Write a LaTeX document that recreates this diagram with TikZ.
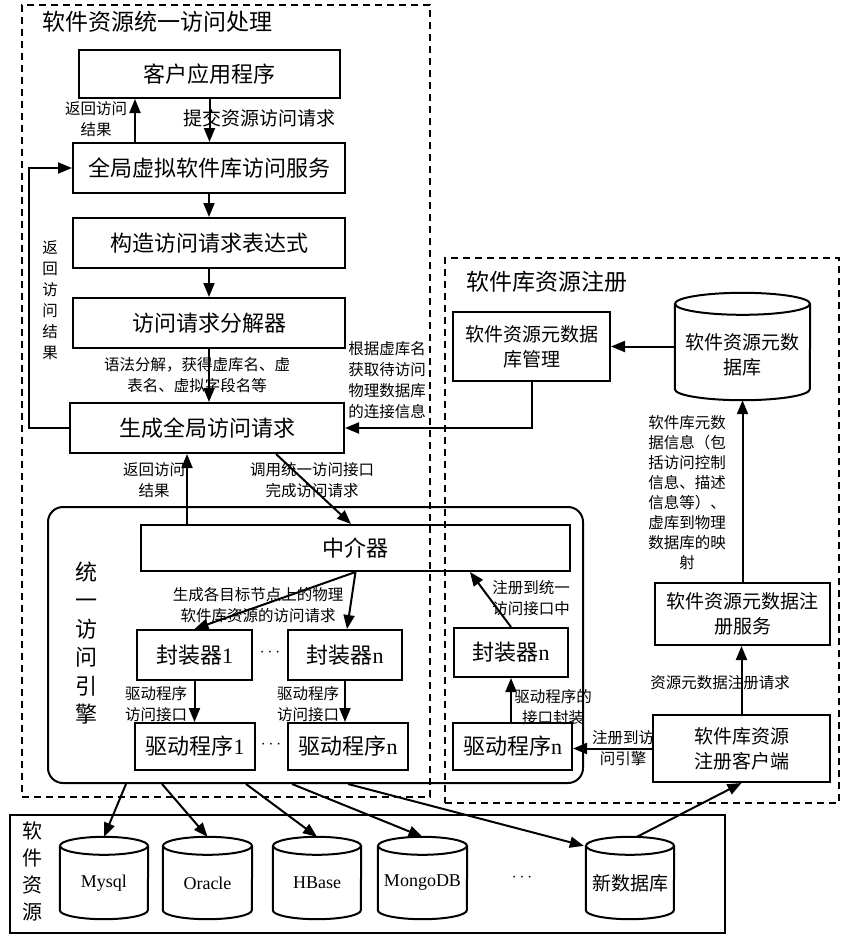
\documentclass[tikz,border=0pt]{standalone}
\usepackage{fontspec}
\setmainfont{Liberation Serif}
\newfontfamily\cjk{Noto Sans CJK SC}
\newfontfamily\lat{Liberation Serif}
\usetikzlibrary{arrows.meta,calc}
\newcommand\fbig{\cjk\fontsize{22}{26}\selectfont}
\newcommand\fmid{\cjk\fontsize{19}{25}\selectfont}
\newcommand\fsm{\cjk\fontsize{15.5}{21}\selectfont}
\newcommand\ftitle{\cjk\fontsize{23}{26}\selectfont}
\newcommand\fdb{\lat\fontsize{18}{20}\selectfont}
% cylinder: name, cx, top, bottom, half width, ry, text, font, text shift
\newcommand\dbcyl[9]{%
  \node[inner sep=0pt, minimum width={2*#5pt}, minimum height={(#4-#3)*1pt}] (#1) at (#2,{(#3+#4)/2}) {};
  \draw[boxline] ([yshift=-#6pt]#1.north west) -- ([yshift=#6pt]#1.south west)
     arc[start angle=180, end angle=360, x radius=#5pt, y radius=#6pt]
     -- ([yshift=-#6pt]#1.north east);
  \draw[boxline] ([yshift=-#6pt]#1.north) ellipse[x radius=#5pt, y radius=#6pt];
  \node[font=#8, align=center, inner sep=0pt] (#1-t) at ([yshift=-#9pt]#1.center) {#7};
}
\tikzset{
  boxline/.style={line width=2pt},
  box/.style={draw, line width=2pt, inner sep=0pt, align=center},
  dashbox/.style={draw, line width=1.7pt, dash pattern=on 7pt off 5pt, inner sep=0pt},
  arr/.style={line width=2pt, -{Triangle[length=14pt,width=11pt]}},
  lbl/.style={font=\fsm, align=center, inner sep=0pt},
}
\begin{document}
\begin{tikzpicture}[x=1pt, y=-1pt]
\useasboundingbox (0,0) rectangle (862,942);

% containers
\node[dashbox, minimum width=408pt, minimum height=792pt] (zoneL) at (226,401) {};
\node[dashbox, minimum width=394pt, minimum height=545pt] (zoneR) at (642,530.5) {};
\node[font=\ftitle, inner sep=0pt] (titleL) at (157.5,22) {软件资源统一访问处理};
\node[font=\ftitle, inner sep=0pt] (titleR) at (547,282) {软件库资源注册};
\node[draw, line width=2pt, rounded corners=15pt, minimum width=535pt, minimum height=276pt] (engine) at (315.5,645) {};
\node[box, minimum width=715pt, minimum height=118pt] (resbox) at (367.5,874) {};

% left column
\node[box, minimum width=261pt, minimum height=48pt, font=\fbig] (client) at (209.5,74) {客户应用程序};
\node[box, minimum width=272pt, minimum height=50pt, font=\fbig] (gsvc) at (209,168) {全局虚拟软件库访问服务};
\node[box, minimum width=272pt, minimum height=50pt, font=\fbig] (expr) at (209,243) {构造访问请求表达式};
\node[box, minimum width=272pt, minimum height=50pt, font=\fbig] (decomp) at (209,323) {访问请求分解器};
\node[box, minimum width=274pt, minimum height=50pt, font=\fbig] (gen) at (207,428) {生成全局访问请求};

% right column
\node[box, minimum width=157pt, minimum height=69pt, font=\fmid] (mgr) at (531.5,346.5) {软件资源元数据\\库管理};
\dbcyl{metadb}{742.5}{293}{400}{67.5}{11}{软件资源元数\\据库}{\fmid}{8}
\node[box, minimum width=175pt, minimum height=62pt, font=\fmid] (regsvc) at (742.5,614) {软件资源元数据注\\册服务};
\node[box, minimum width=177pt, minimum height=67pt, font=\fmid] (regcli) at (741.5,748.5) {软件库资源\\注册客户端};

% engine contents
\node[font=\cjk\fontsize{22}{28.5}\selectfont, align=center, inner sep=0pt] (englbl) at (86,643) {统\\一\\访\\问\\引\\擎};
\node[box, minimum width=429pt, minimum height=46pt, font=\fbig] (med) at (355.5,548) {中介器};
\node[box, minimum width=115pt, minimum height=50pt, font=\fbig] (wrap1) at (194.5,655) {封装器{\lat 1}};
\node[box, minimum width=114pt, minimum height=50pt, font=\fbig] (wrapN) at (345,655) {封装器{\lat n}};
\node[box, minimum width=120pt, minimum height=47pt, font=\fbig] (drv1) at (195,746.5) {驱动程序{\lat 1}};
\node[box, minimum width=120pt, minimum height=47pt, font=\fbig] (drvN) at (348,746.5) {驱动程序{\lat n}};
\node[box, minimum width=114pt, minimum height=49pt, font=\fbig] (wrapN2) at (511,652.5) {封装器{\lat n}};
\node[box, minimum width=119pt, minimum height=47pt, font=\fbig] (drvN2) at (512.5,746.5) {驱动程序{\lat n}};
\node[inner sep=0pt, font=\fontsize{19}{20}\selectfont] (dots1) at (270,653) {$\cdots$};
\node[inner sep=0pt, font=\fontsize{19}{20}\selectfont] (dots2) at (271,745) {$\cdots$};

% databases
\node[font=\cjk\fontsize{20}{27}\selectfont, align=center, inner sep=0pt] (reslbl) at (33,871) {软\\件\\资\\源};
\dbcyl{mysql}{104}{837}{919}{44}{9}{Mysql}{\fdb}{5}
\dbcyl{oracle}{207.5}{837}{919}{44.5}{9}{Oracle}{\fdb}{5}
\dbcyl{hbase}{317}{837}{919}{44}{9}{HBase}{\fdb}{5}
\dbcyl{mongo}{422.5}{837}{919}{44.5}{9}{MongoDB}{\fdb}{5}
\dbcyl{newdb}{630}{837}{919}{44}{9}{新数据库}{\fmid}{5}
\node[inner sep=0pt, font=\fontsize{17}{20}\selectfont] (dots3) at (522,878) {$\cdots$};

% labels
\node[lbl, font=\fmid] (lsubmit) at (259,118) {提交资源访问请求};
\node[lbl] (lret1) at (96,119) {返回访问\\结果};
\node[lbl] (lret2) at (50,300) {返\\回\\访\\问\\结\\果};
\node[lbl] (lparse) at (197,375) {语法分解，获得虚库名、虚\\表名、虚拟字段名等};
\node[lbl] (lconn) at (387,380) {根据虚库名\\获取待访问\\物理数据库\\的连接信息};
\node[lbl] (lret3) at (154,480) {返回访问\\结果};
\node[lbl] (lcall) at (312,480) {调用统一访问接口\\完成访问请求};
\node[lbl] (lgen) at (258,605) {生成各目标节点上的物理\\软件库资源的访问请求};
\node[lbl] (ldrv1) at (156,704) {驱动程序\\访问接口};
\node[lbl] (ldrvN) at (308,704) {驱动程序\\访问接口};
\node[lbl] (lregu) at (531,598) {注册到统一\\访问接口中};
\node[lbl] (lwrapd) at (553,707) {驱动程序的\\接口封装};
\node[lbl] (lrege) at (623,748) {注册到访\\问引擎};
\node[lbl] (lmetareq) at (720,683) {资源元数据注册请求};
\node[lbl, font=\cjk\fontsize{15.5}{20}\selectfont] (lmeta) at (687,493) {软件库元数\\据信息（包\\括访问控制\\信息、描述\\信息等）、\\虚库到物理\\数据库的映\\射};

% helper coordinates
\coordinate (cA) at ([xshift=-74pt]gsvc.north);
\coordinate (cB) at ([xshift=-168.5pt]med.north);
\coordinate (cC) at ([xshift=69pt]gen.south);
\coordinate (cD) at ([xshift=-4.5pt]med.north);
\coordinate (cE) at ([xshift=2pt]wrapN.north);
\coordinate (cF) at ([xshift=114.5pt]med.south);
\coordinate (cG) at ([xshift=7pt]newdb.north);
\coordinate (cH) at ([yshift=-9pt,xshift=-2pt]newdb.north west);
\coordinate (e1) at ([xshift=-189.5pt]engine.south);
\coordinate (e2) at ([xshift=-153.5pt]engine.south);
\coordinate (e3) at ([xshift=-69.5pt]engine.south);
\coordinate (e4) at ([xshift=-23.5pt]engine.south);
\coordinate (e5) at ([xshift=32.5pt]engine.south);

% connectors
\draw[arr] (client.south) -- (client.south |- gsvc.north);
\draw[arr] (cA) -- (cA |- client.south);
\draw[arr] (gsvc.south) -- (expr.north);
\draw[arr] (expr.south) -- (decomp.north);
\draw[arr] (decomp.south) -- (decomp.south |- gen.north);
\draw[arr] (gen.west) -- ++(-40,0) |- (gsvc.west);
\draw[arr] (mgr.south) |- (gen.east);
\draw[arr] (metadb.west) -- (metadb.west -| mgr.east);
\draw[arr] (cB) -- (cB |- gen.south);
\draw[arr] (cC) -- (cD);
\draw[arr] (med.south) -- (wrap1.north);
\draw[arr] (med.south) -- (cE);
\draw[arr] (wrap1.south) -- (wrap1.south |- drv1.north);
\draw[arr] (wrapN.south) -- (wrapN.south |- drvN.north);
\draw[arr] (wrapN2.south |- drvN2.north) -- (wrapN2.south);
\draw[arr] (wrapN2.north) -- (cF);
\draw[arr] (regcli.west) -- (regcli.west -| drvN2.east);
\draw[arr] (regcli.north) -- (regcli.north |- regsvc.south);
\draw[arr] (regsvc.north) -- (metadb.south);
\draw[arr] (e1) -- (mysql.north);
\draw[arr] (e2) -- (oracle.north);
\draw[arr] (e3) -- (hbase.north);
\draw[arr] (e4) -- (mongo.north);
\draw[arr] (e5) -- (cH);
\draw[arr] (cG) -- (regcli.south);
\end{tikzpicture}
\end{document}
